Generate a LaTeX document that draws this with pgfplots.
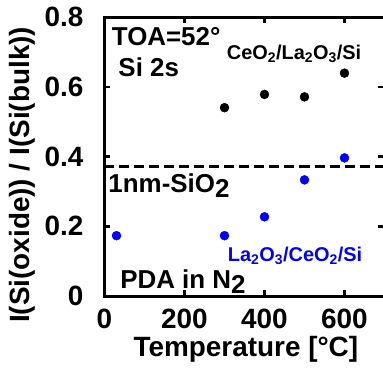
\documentclass[border=0pt]{standalone}
\usepackage{fontspec}
\setmainfont{Liberation Sans}
\usepackage{pgfplots}
\pgfplotsset{compat=1.18}
\begin{document}
\begin{tikzpicture}
\begin{axis}[
  name=ax,
  at={(0,0)}, anchor=south west,
  scale only axis, width=280bp, height=279bp,
  xmin=0, xmax=700, ymin=0, ymax=0.8,
  xtick={0,200,400,600}, xticklabels={0,200,400,600},
  ytick={0,0.2,0.4,0.6,0.8}, yticklabels={0,0.2,0.4,0.6,0.8},
  tick align=inside, major tick length=6bp,
  every tick/.style={line width=2.5bp, black},
  axis line style={line width=3bp},
  tick label style={font=\fontsize{28}{32}\selectfont\bfseries, inner sep=0pt},
  xticklabel style={anchor=base, yshift=-32bp},
  yticklabel style={anchor=east, xshift=-21bp},
  xlabel={Temperature [°C]},
  ylabel={I(Si(oxide)) / I(Si(bulk))},
  label style={font=\fontsize{28}{32}\selectfont\bfseries, inner sep=0pt},
  xlabel style={at={(axis description cs:0.505,-0.2186)}, anchor=base},
  ylabel style={at={(axis description cs:-0.295,0.434)}, anchor=center},
  clip=false,
]
\addplot[black, line width=3bp, dash pattern=on 10bp off 5bp, forget plot] coordinates {(0,0.37) (700,0.37)};
\addplot[only marks, mark=*, mark size=4.5bp, black] coordinates {
 (300,0.540) (400,0.578) (500,0.571) (600,0.639)};
\addplot[only marks, mark=*, mark size=4.5bp, blue, mark options={fill=blue, draw=blue}] coordinates {
 (30,0.173) (300,0.173) (400,0.227) (500,0.333) (600,0.396)};
\node[anchor=base west, inner sep=0pt, font=\fontsize{26}{30}\selectfont\bfseries] at (axis cs:18,0.7197) {TOA=52°};
\node[anchor=base west, inner sep=0pt, font=\fontsize{26}{30}\selectfont\bfseries] at (axis cs:34.5,0.629) {Si 2s};
\node[anchor=base west, inner sep=0pt, font=\fontsize{20}{24}\selectfont\bfseries] at (axis cs:305.5,0.679) {CeO\textsubscript{2}/La\textsubscript{2}O\textsubscript{3}/Si};
\node[anchor=base west, inner sep=0pt, font=\fontsize{26}{30}\selectfont\bfseries] at (axis cs:9.5,0.296) {1nm-SiO\raisebox{-0.35ex}{2}};
\node[anchor=base west, inner sep=0pt, text=blue, font=\fontsize{20}{24}\selectfont\bfseries] at (axis cs:308,0.098) {La\textsubscript{2}O\textsubscript{3}/CeO\textsubscript{2}/Si};
\node[anchor=base west, inner sep=0pt, font=\fontsize{26}{30}\selectfont\bfseries] at (axis cs:39,0.022) {PDA in N\raisebox{-0.35ex}{2}};
\end{axis}
\pgfresetboundingbox
\useasboundingbox (-104.5bp,-73bp) rectangle (278.5bp,296bp);
\end{tikzpicture}
\end{document}
